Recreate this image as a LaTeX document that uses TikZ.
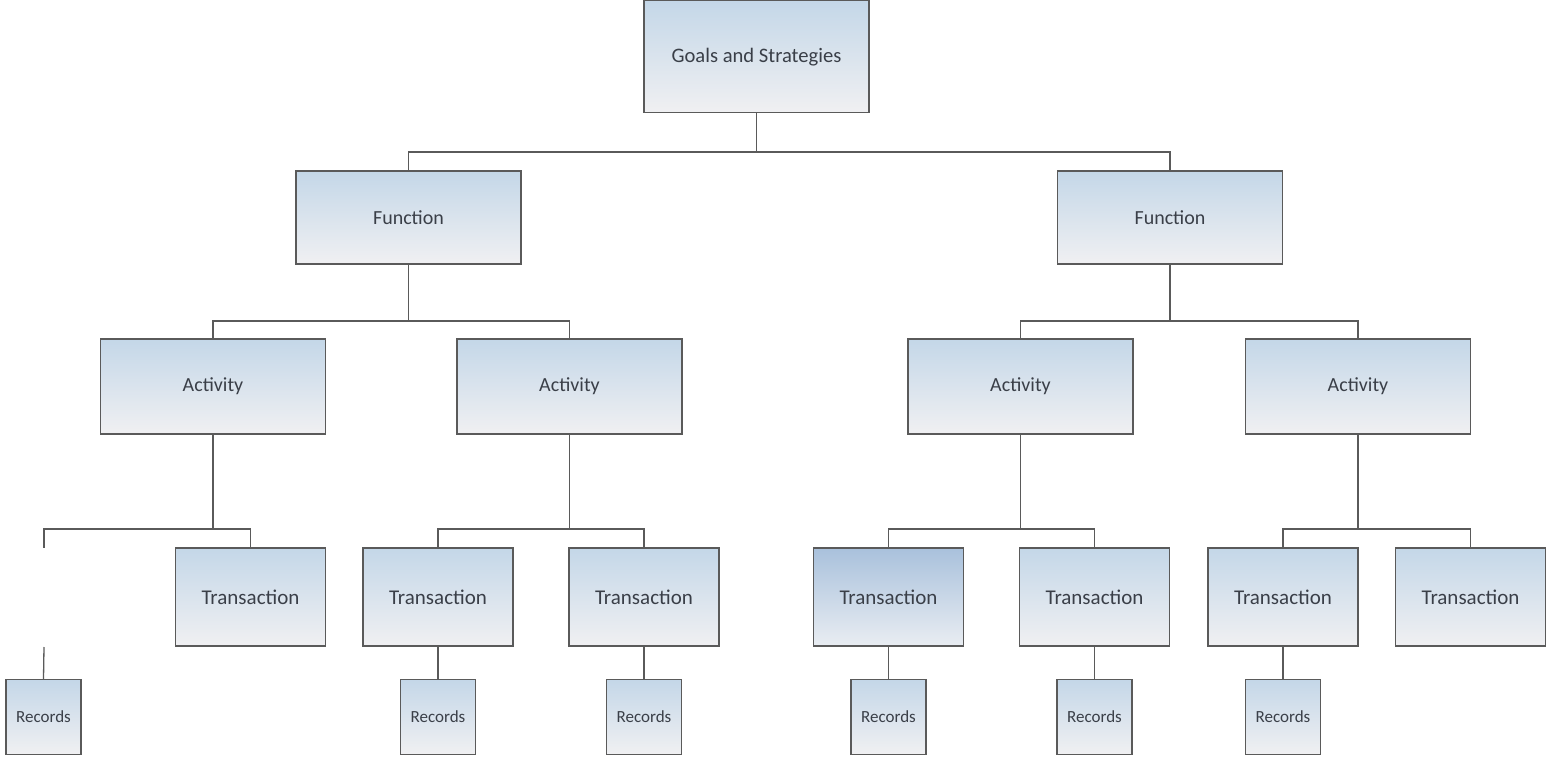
\documentclass[tikz,border=0pt]{standalone}
\usepackage{fontspec}
\setmainfont{Carlito}
\definecolor{edge}{HTML}{5A5A5A}
\definecolor{boxtop}{HTML}{C4D7E8}
\definecolor{boxbot}{HTML}{F0F0F2}
\definecolor{seltop}{HTML}{A9C1DC}
\definecolor{selbot}{HTML}{E9EDF2}
\definecolor{ink}{HTML}{3A3F48}
\begin{document}
\begin{tikzpicture}[x=1pt,y=-1pt,
  box/.style={draw=edge, line width=1.3pt, rectangle, inner sep=0pt,
    top color=boxtop, bottom color=boxbot, text=ink, font=\fontsize{20}{24}\selectfont},
  goalbox/.style={box, minimum width=225pt, minimum height=112pt, font=\fontsize{20.6}{24}\selectfont},
  funcbox/.style={box, minimum width=225pt, minimum height=93pt},
  actbox/.style={box, minimum width=225pt, minimum height=95pt},
  transbox/.style={box, minimum width=150pt, minimum height=98pt, font=\fontsize{21}{25}\selectfont},
  recbox/.style={box, minimum width=75pt, minimum height=75pt, font=\fontsize{17}{20}\selectfont},
  selected/.style={top color=seltop, bottom color=selbot},
  link/.style={draw=edge, line width=1.3pt}]
\useasboundingbox (0,0) rectangle (1547,759);

% top level
\node[goalbox] (g) at (756.5,56.8) {Goals and Strategies};

% functions
\node[funcbox] (f1) at (408.5,217.5) {Function};
\node[funcbox] (f2) at (1170,217.5) {Function};

% activities
\node[actbox] (a1) at (213,386.5) {Activity};
\node[actbox] (a2) at (569.5,386.5) {Activity};
\node[actbox] (a3) at (1020.5,386.5) {Activity};
\node[actbox] (a4) at (1358,386.5) {Activity};

% transactions
\coordinate (t0top) at (44,548);
\coordinate (t0bot) at (44,647);
\node[transbox] (t1) at (250.5,597) {Transaction};
\node[transbox] (t2) at (438,597) {Transaction};
\node[transbox] (t3) at (644,597) {Transaction};
\node[transbox, selected] (t4) at (888.5,597) {Transaction};
\node[transbox] (t5) at (1094.5,597) {Transaction};
\node[transbox] (t6) at (1283,597) {Transaction};
\node[transbox] (t7) at (1470.5,597) {Transaction};

% records
\node[recbox] (r1) at (43.5,717) {Records};
\node[recbox] (r2) at (438,717) {Records};
\node[recbox] (r3) at (644,717) {Records};
\node[recbox] (r4) at (888.5,717) {Records};
\node[recbox] (r5) at (1094.5,717) {Records};
\node[recbox] (r6) at (1283,717) {Records};

% connectors
\draw[link] (g.south) -- (g.south |- 0,152) -| (f1.north);
\draw[link] (g.south |- 0,152) -| (f2.north);

\draw[link] (f1.south) -- (f1.south |- 0,321) -| (a1.north);
\draw[link] (f1.south |- 0,321) -| (a2.north);
\draw[link] (f2.south) -- (f2.south |- 0,321) -| (a3.north);
\draw[link] (f2.south |- 0,321) -| (a4.north);

\draw[link] (a1.south) -- (a1.south |- 0,529) -| (t0top);
\draw[link] (a1.south |- 0,529) -| (t1.north);
\draw[link] (a2.south) -- (a2.south |- 0,529) -| (t2.north);
\draw[link] (a2.south |- 0,529) -| (t3.north);
\draw[link] (a3.south) -- (a3.south |- 0,529) -| (t4.north);
\draw[link] (a3.south |- 0,529) -| (t5.north);
\draw[link] (a4.south) -- (a4.south |- 0,529) -| (t6.north);
\draw[link] (a4.south |- 0,529) -| (t7.north);

\draw[link] (t0bot) -- (r1.north);
\draw[link] (t2.south) -- (r2.north);
\draw[link] (t3.south) -- (r3.north);
\draw[link] (t4.south) -- (r4.north);
\draw[link] (t5.south) -- (r5.north);
\draw[link] (t6.south) -- (r6.north);
\end{tikzpicture}
\end{document}
